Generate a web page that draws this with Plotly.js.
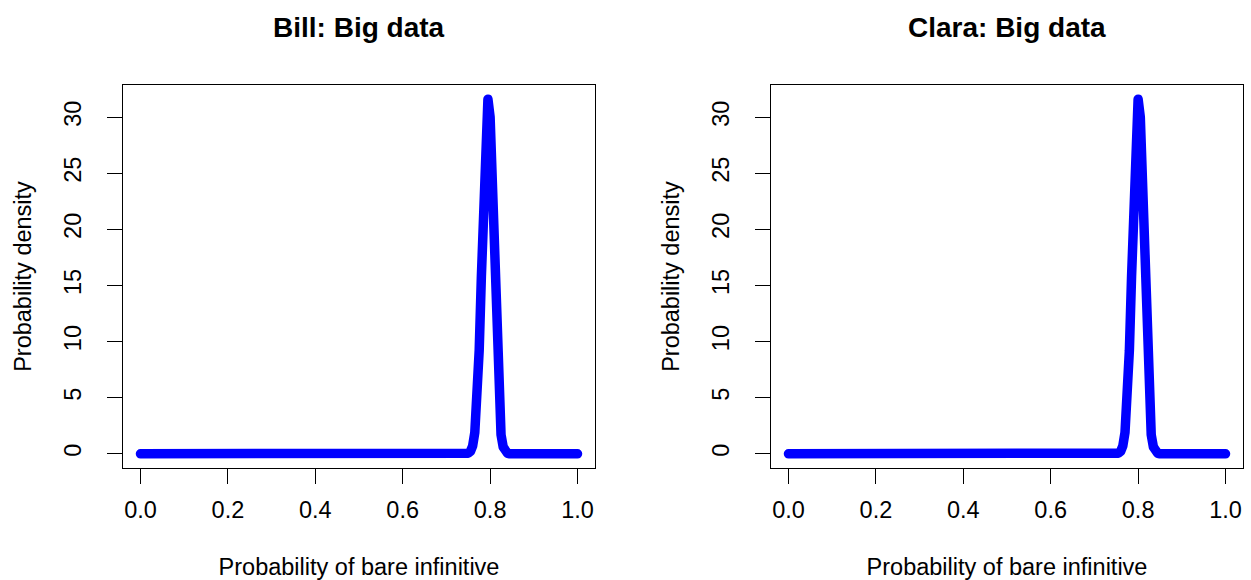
<!DOCTYPE html>
<html>
<head>
<meta charset="utf-8">
<script src="https://cdn.plot.ly/plotly-3.0.1.min.js"></script>
<style>
  html, body { margin: 0; padding: 0; background: #fff; }
  #chart { width: 1251px; height: 580px; }
  /* rounded ends and joins for the thick density curves */
  .scatterlayer path.js-line { stroke-linecap: round !important; stroke-linejoin: round !important; }
</style>
</head>
<body>
<div id="chart"></div>
<script>
// Proportion grid (x) shared by both posterior curves
const proportion = [0.00, 0.74, 0.745, 0.75, 0.755, 0.76, 0.765, 0.77, 0.775, 0.78, 0.785,
                    0.79, 0.795, 0.80, 0.805, 0.81, 0.815, 0.82, 0.825, 0.83, 0.835,
                    0.84, 0.845, 0.85, 0.855, 0.86, 1.00];

// Posterior density for each speaker
const billDensity  = [0, 0, 0.02, 0.06, 0.22, 0.7, 1.9, 4.5, 9.2, 15.8, 23.8,
                      29.8, 31.6, 30.0, 24.0, 15.8, 8.9, 4.2, 1.7, 0.6, 0.17,
                      0.04, 0, 0, 0, 0, 0];
const claraDensity = [0, 0, 0, 0.02, 0.06, 0.22, 0.7, 1.9, 4.5, 9.2, 15.8,
                      23.8, 29.8, 31.6, 30.0, 24.0, 15.8, 8.9, 4.2, 1.7, 0.6,
                      0.17, 0.04, 0, 0, 0, 0];

const panelTitles = ["Bill: Big data", "Clara: Big data"];
const xTickVals = [0, 0.2, 0.4, 0.6, 0.8, 1.0];
const xTickText = ["0.0", "0.2", "0.4", "0.6", "0.8", "1.0"];
const yTickVals = [0, 5, 10, 15, 20, 25, 30];
const xLabel = "Probability of bare infinitive";
const yLabel = "Probability density";

const W = 1251, H = 580;
const FONT = "Liberation Sans, Arial, Helvetica, sans-serif";
const ink = "#000000";
const textSize = 23.5;

// Plot-box positions in pixels, converted to paper fractions
const boxes = [
  {left: 123, right: 595},
  {left: 771, right: 1243}
];
const boxTop = 85, boxBottom = 468;
const yDomain = [1 - boxBottom / H, 1 - boxTop / H];

const peak = Math.max(...billDensity, ...claraDensity);
const yRange = [-0.04 * peak, 1.04 * peak];

function xAxis(i) {
  return {
    domain: [boxes[i].left / W, boxes[i].right / W],
    anchor: i === 0 ? "y" : "y2",
    range: [-0.04, 1.04],
    tickvals: xTickVals,
    ticktext: xTickText,
    ticks: "outside",
    ticklen: 15,
    tickwidth: 1,
    tickcolor: ink,
    ticklabelstandoff: 6,
    tickfont: {family: FONT, size: textSize, color: ink},
    showline: true,
    mirror: true,
    linecolor: ink,
    linewidth: 1,
    showgrid: false,
    zeroline: false,
    automargin: false,
    title: {text: xLabel, font: {family: FONT, size: textSize, color: ink}, standoff: 38}
  };
}

function yAxis(i) {
  return {
    domain: yDomain,
    anchor: i === 0 ? "x" : "x2",
    range: yRange,
    tickvals: yTickVals,
    tickangle: -90,
    ticks: "outside",
    ticklen: 15,
    tickwidth: 1,
    tickcolor: ink,
    ticklabelstandoff: 17,
    tickfont: {family: FONT, size: textSize, color: ink},
    showline: true,
    mirror: true,
    linecolor: ink,
    linewidth: 1,
    showgrid: false,
    zeroline: false,
    automargin: false,
    title: {text: yLabel, font: {family: FONT, size: textSize, color: ink}, standoff: 21}
  };
}

const curveStyle = {color: "#0000ff", width: 9.5};

const data = [
  {x: proportion, y: billDensity, xaxis: "x", yaxis: "y",
   type: "scatter", mode: "lines", line: curveStyle, hoverinfo: "skip"},
  {x: proportion, y: claraDensity, xaxis: "x2", yaxis: "y2",
   type: "scatter", mode: "lines", line: curveStyle, hoverinfo: "skip"}
];

const annotations = panelTitles.map((t, i) => ({
  text: "<b>" + t + "</b>",
  xref: "paper", yref: "paper",
  x: (boxes[i].left + boxes[i].right) / 2 / W,
  y: 1 - 28 / H,
  xanchor: "center", yanchor: "middle",
  showarrow: false,
  font: {family: FONT, size: 28, color: ink}
}));

const layout = {
  width: W, height: H,
  margin: {l: 0, r: 0, t: 0, b: 0, pad: 0},
  paper_bgcolor: "#ffffff",
  plot_bgcolor: "#ffffff",
  showlegend: false,
  xaxis: xAxis(0), yaxis: yAxis(0),
  xaxis2: xAxis(1), yaxis2: yAxis(1),
  annotations: annotations
};

Plotly.newPlot("chart", data, layout, {staticPlot: true, displayModeBar: false});
</script>
</body>
</html>
